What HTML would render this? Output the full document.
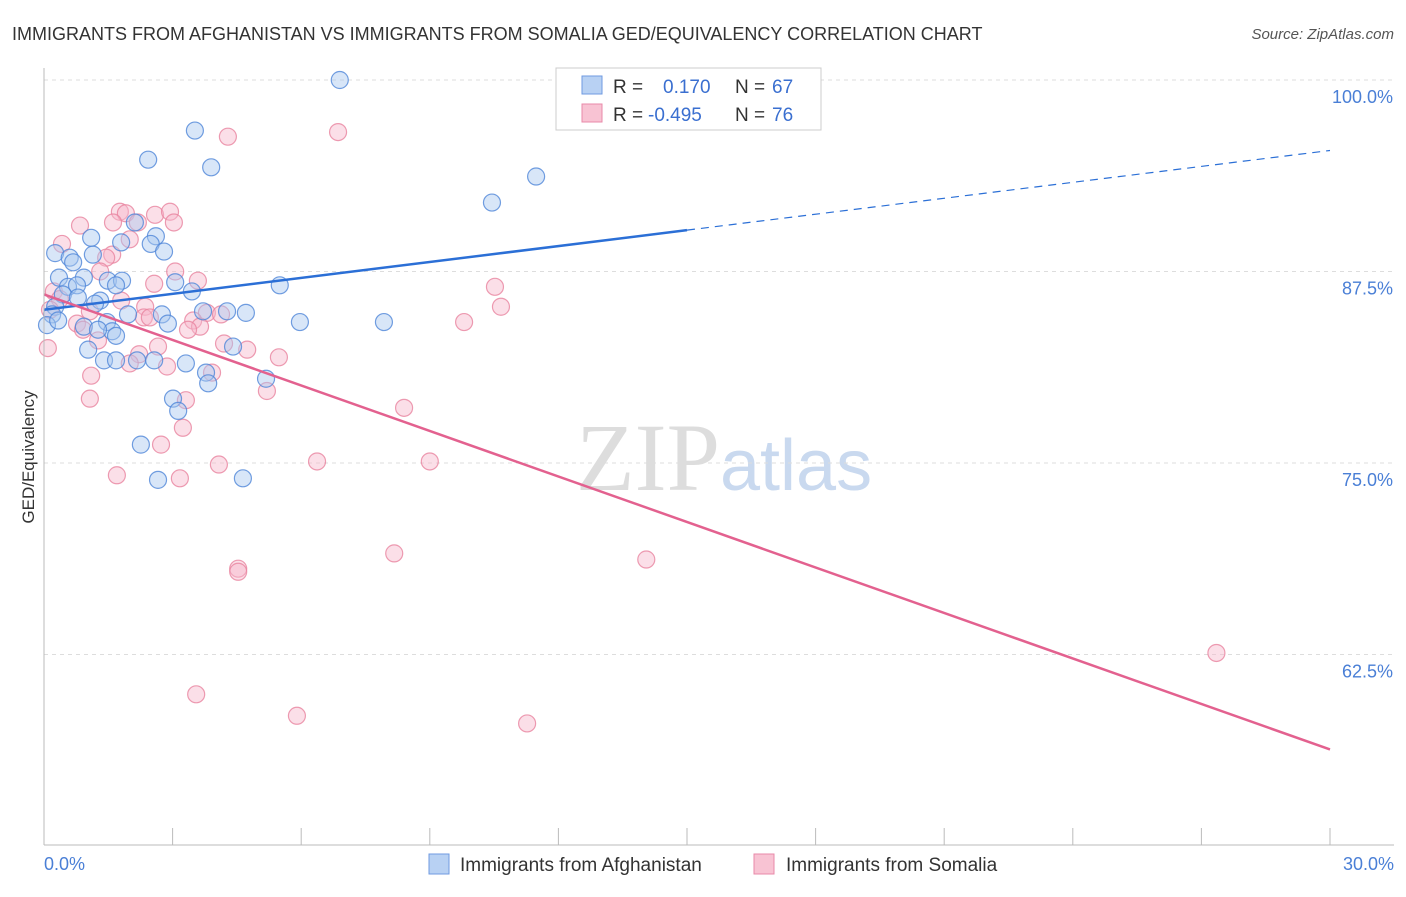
<!DOCTYPE html>
<html><head><meta charset="utf-8"><style>
body{margin:0;background:#fff;font-family:"Liberation Sans",sans-serif;}
svg text{font-family:"Liberation Sans",sans-serif;}
</style></head><body>
<svg id="chart" width="1406" height="892" xmlns="http://www.w3.org/2000/svg">
<text x="12" y="40" font-size="18" fill="#333">IMMIGRANTS FROM AFGHANISTAN VS IMMIGRANTS FROM SOMALIA GED/EQUIVALENCY CORRELATION CHART</text>
<text x="1394" y="39" font-size="15" fill="#555" font-style="italic" text-anchor="end">Source: ZipAtlas.com</text>
<text x="34" y="457" font-size="17" fill="#333" transform="rotate(-90 34 457)" text-anchor="middle">GED/Equivalency</text>
<text x="720" y="490" font-size="96" fill="#ddd" text-anchor="end" font-family="Liberation Serif" style="font-family:'Liberation Serif',serif">ZIP</text>
<text x="720" y="490" font-size="72" fill="#c9d9ef">atlas</text>
<g id="grid"></g><g id="marks"></g><g id="lines"></g><g id="axes"></g>
<g>
<rect x="556" y="68" width="265" height="62" fill="#fff" stroke="#ccc"/>
<rect x="582" y="76" width="20" height="18" fill="#b8d1f3" stroke="#6f9ae0"/>
<rect x="582" y="104" width="20" height="18" fill="#f8c3d3" stroke="#e88aa8"/>
<text x="613" y="93" font-size="19" fill="#333">R = </text><text x="663" y="93" font-size="19" fill="#3a6fd0">0.170</text>
<text x="735" y="93" font-size="19" fill="#333">N = </text><text x="772" y="93" font-size="19" fill="#3a6fd0">67</text>
<text x="613" y="121" font-size="19" fill="#333">R = </text><text x="648" y="121" font-size="19" fill="#3a6fd0">-0.495</text>
<text x="735" y="121" font-size="19" fill="#333">N = </text><text x="772" y="121" font-size="19" fill="#3a6fd0">76</text>
</g>
<g>
<rect x="429" y="854" width="20" height="20" fill="#b8d1f3" stroke="#6f9ae0"/>
<text x="460" y="871" font-size="19" fill="#333">Immigrants from Afghanistan</text>
<rect x="754" y="854" width="20" height="20" fill="#f8c3d3" stroke="#e88aa8"/>
<text x="786" y="871" font-size="19" fill="#333">Immigrants from Somalia</text>
</g>
</svg>
<script>
const yTicks=[100,87.5,75,62.5];
const yTickLabels=["100.0%","87.5%","75.0%","62.5%"];
const xTicks=[0,3,6,9,12,15,18,21,24,27,30];
const blueX=[6.9,3.52,2.43,3.9,11.48,10.45,2.12,1.1,1.8,2.61,2.49,2.8,0.26,0.6,0.68,1.14,0.35,0.93,1.49,1.82,1.68,5.5,3.06,0.56,0.77,3.45,0.44,0.79,1.31,1.19,0.26,0.19,0.07,0.33,1.96,2.75,3.71,4.27,4.71,2.89,5.97,7.93,0.93,1.47,1.59,1.68,1.26,1.03,4.41,1.4,1.68,2.17,2.57,3.31,3.78,3.83,5.18,3.01,3.13,2.26,2.66,4.64];
const blueY=[100.0,96.7,94.8,94.3,93.7,92.0,90.7,89.7,89.4,89.8,89.3,88.8,88.7,88.4,88.1,88.6,87.1,87.1,86.9,86.9,86.6,86.6,86.8,86.5,86.6,86.2,86.0,85.8,85.6,85.4,85.2,84.7,84.0,84.3,84.7,84.7,84.9,84.9,84.8,84.1,84.2,84.2,83.9,84.2,83.6,83.3,83.7,82.4,82.6,81.7,81.7,81.7,81.7,81.5,80.9,80.2,80.5,79.2,78.4,76.2,73.9,74.0];
const pinkX=[6.86,4.29,1.77,1.91,2.59,2.94,0.84,1.61,2.19,3.03,0.42,2.0,1.59,1.45,1.31,3.06,3.59,2.57,10.52,10.66,0.23,0.37,1.8,2.36,0.14,1.07,2.33,2.47,3.8,4.13,3.48,3.64,3.36,9.8,0.77,0.91,1.26,0.09,4.2,2.66,4.74,5.48,2.22,2.0,2.87,1.1,3.92,5.2,1.07,3.31,8.4,3.24,2.73,6.37,9.0,4.08,1.7,3.17,8.17,14.05,4.53,4.53,27.35,3.55,5.9,11.27];
const pinkY=[96.6,96.3,91.4,91.3,91.2,91.4,90.5,90.7,90.7,90.7,89.3,89.6,88.6,88.4,87.5,87.5,86.9,86.7,86.5,85.2,86.2,85.7,85.6,85.2,85.0,84.9,84.5,84.5,84.8,84.7,84.3,83.9,83.7,84.2,84.1,83.7,83.0,82.5,82.8,82.6,82.4,81.9,82.1,81.5,81.3,80.7,80.9,79.7,79.2,79.1,78.6,77.3,76.2,75.1,75.1,74.9,74.2,74.0,69.1,68.7,68.1,67.9,62.6,59.9,58.5,58.0];
const blueTrend=[0,85.0,15,90.2,30,95.4];
const pinkTrend=[0,86.0,30,56.3];
const NS="http://www.w3.org/2000/svg";
const X=v=>44+v/30*1286, Y=v=>80+(100-v)/12.5*191.5;
function mk(t,a,p){const e=document.createElementNS(NS,t);for(const k in a)e.setAttribute(k,a[k]);p.appendChild(e);return e;}
const grid=document.getElementById('grid'),axes=document.getElementById('axes'),marks=document.getElementById('marks'),lines=document.getElementById('lines');
yTicks.forEach((t,i)=>{
 const l=mk('line',{x1:44,x2:1394,y1:Y(t),y2:Y(t),stroke:'#ddd','stroke-dasharray':'4,4'},grid);
 
 
 const tx=mk('text',{x:1393,y:Y(t)+23,'font-size':18,fill:'#4a7fd6','text-anchor':'end'},axes);
 tx.textContent=yTickLabels[i];
 
 
});
mk('line',{x1:44,x2:44,y1:68,y2:845,stroke:'#bbb'},axes);
mk('line',{x1:44,x2:1394,y1:845,y2:845,stroke:'#bbb'},axes);
xTicks.forEach(t=>{const l=mk('line',{x1:X(t),x2:X(t),y1:828,y2:845,stroke:'#bbb'},axes);
 
 });
let a=mk('text',{x:44,y:870,'font-size':18,fill:'#4a7fd6'},axes);a.textContent='0.0%';


a=mk('text',{x:1394,y:870,'font-size':18,fill:'#4a7fd6','text-anchor':'end'},axes);a.textContent='30.0%';


function pts(xs,ys,fill,stroke,name){xs.forEach((v,i)=>{
 const c=mk('circle',{cx:X(v),cy:Y(ys[i]),r:8.5,fill:fill,'fill-opacity':0.45,stroke:stroke,'stroke-opacity':0.8,'stroke-width':1.2},marks);
 
 });}
pts(pinkX,pinkY,'#f7b9cc','#e8839f','somalia-point');
pts(blueX,blueY,'#a9c8f0','#4f86d8','afghanistan-point');
let l=mk('line',{x1:X(blueTrend[0]),y1:Y(blueTrend[1]),x2:X(blueTrend[2]),y2:Y(blueTrend[3]),stroke:'#2b6fd6','stroke-width':2.5},lines);


l=mk('line',{x1:X(blueTrend[2]),y1:Y(blueTrend[3]),x2:X(blueTrend[4]),y2:Y(blueTrend[5]),stroke:'#2b6fd6','stroke-width':1.2,'stroke-dasharray':'8,6'},lines);


l=mk('line',{x1:X(pinkTrend[0]),y1:Y(pinkTrend[1]),x2:X(pinkTrend[2]),y2:Y(pinkTrend[3]),stroke:'#e3618f','stroke-width':2.5},lines);


</script>
</body></html>
